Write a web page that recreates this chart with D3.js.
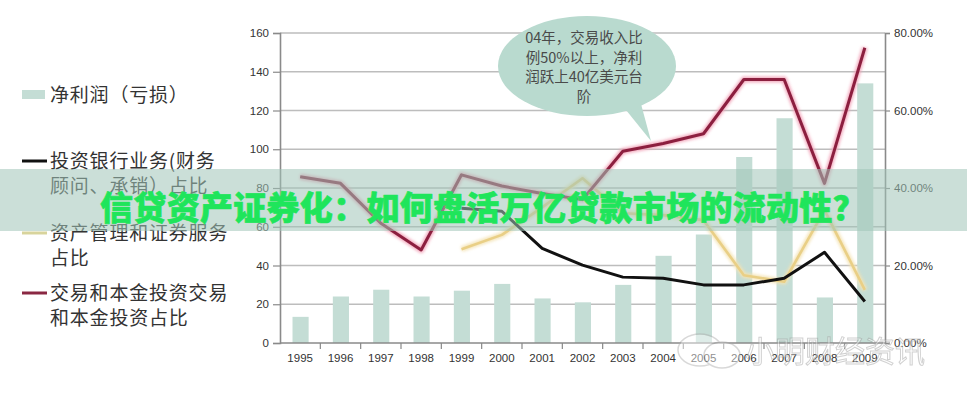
<!DOCTYPE html>
<html><head><meta charset="utf-8">
<script src="https://cdn.jsdelivr.net/npm/d3@7"></script>
<style>
html,body{margin:0;padding:0;background:#fff;}
svg{display:block;font-family:"Noto Sans CJK SC","Liberation Sans",Arial,sans-serif;}
</style></head>
<body>
<svg id="c" width="967" height="400"></svg>
<script>
const years = ["1995","1996","1997","1998","1999","2000","2001","2002","2003","2004","2005","2006","2007","2008","2009"];
const netProfit = [13.5, 24, 27.5, 24, 27, 30.5, 23, 21, 30, 45, 56, 96, 116, 23.5, 134];
const ibShare = [null, null, null, null, 34.8, 34, 24.4, 20.1, 17, 16.7, 15, 15, 16.7, 23.4, 10.7];
const amShare = [null, null, null, null, 24.2, 27.9, 35, 42.5, 33.5, 33, 31.7, 17.5, 15.8, 34.3, 13.7];
const tradeShare = [42.9, 41.2, 30.9, 24, 43.4, 40.5, 38.6, 37, 49.5, 51.5, 54, 68, 68, 41.2, 76.2];
const leftTicks = [0, 20, 40, 60, 80, 100, 120, 140, 160];
const rightTicks = [0, 20, 40, 60, 80];
const legendItems = [
  {type:"rect", lines:["净利润（亏损）"]},
  {type:"line", color:"#111", lines:["投资银行业务(财务","顾问、承销）占比"]},
  {type:"line", color:"#d8d49c", lines:["资产管理和证券服务","占比"]},
  {type:"line", color:"#8a2843", lines:["交易和本金投资交易","和本金投资占比"]}
];
const bubbleLines = ["04年，交易收入比","例50%以上，净利","润跃上40亿美元台","阶"];
const title = "信贷资产证券化：如何盘活万亿贷款市场的流动性？";

const svg = d3.select("#c");
const L = 280, R = 885, T = 33, B = 343;
const x = d3.scaleBand().domain(years).range([L, R]).padding(0);
const yL = d3.scaleLinear().domain([0,160]).range([B, T]);
const yR = d3.scaleLinear().domain([0,80]).range([B, T]);

const defs = svg.append("defs");
const glow = defs.append("filter").attr("id","glow").attr("x","-10%").attr("y","-10%").attr("width","120%").attr("height","120%");
glow.append("feGaussianBlur").attr("stdDeviation",1.6);

// gridlines
svg.append("g").selectAll("line").data(leftTicks.filter(d=>d>0)).join("line")
  .attr("x1",L).attr("x2",R).attr("y1",d=>yL(d)).attr("y2",d=>yL(d))
  .attr("stroke","#bdbdbd").attr("stroke-width",1.3);

// bars
svg.append("g").selectAll("rect").data(netProfit).join("rect")
  .attr("x",(d,i)=>x(years[i])+x.bandwidth()*0.31)
  .attr("width",x.bandwidth()*0.4)
  .attr("y",d=>yL(d)).attr("height",d=>B-yL(d))
  .attr("fill","#c4ddd5");

// axes
const axL = svg.append("g").attr("transform",`translate(${L},0)`)
  .call(d3.axisLeft(yL).tickValues(leftTicks).tickSize(7).tickPadding(4).tickFormat(d3.format("d")));
const axR = svg.append("g").attr("transform",`translate(${R},0)`)
  .call(d3.axisRight(yR).tickValues(rightTicks).tickSize(5).tickPadding(4).tickFormat(d=>d.toFixed(2)+"%"));
const axB = svg.append("g").attr("transform",`translate(0,${B})`)
  .call(d3.axisBottom(x).tickSize(0).tickPadding(11));
svg.append("g").selectAll("line").data(years.slice(1)).join("line")
  .attr("x1",d=>x(d)).attr("x2",d=>x(d)).attr("y1",B).attr("y2",B+6)
  .attr("stroke","#888").attr("stroke-width",1.2);
[axL,axR,axB].forEach(a=>{
  a.selectAll(".domain").attr("stroke","#8a8a8a").attr("stroke-width",1.6);
  a.selectAll(".tick line").attr("stroke","#8a8a8a").attr("stroke-width",1.2);
  a.selectAll("text").attr("fill","#333").style("font-family","'Liberation Sans',Arial,sans-serif").style("font-size","11.5px");
});
axB.select(".domain").attr("d",`M${L},0H${R}`);

// lines
const lineGen = d3.line().defined(d=>d!=null).x((d,i)=>x(years[i])+x.bandwidth()/2).y(d=>yR(d));
function drawLine(data, color, haloColor, width){
  if(haloColor){
    svg.append("path").datum(data).attr("d",lineGen).attr("fill","none")
      .attr("stroke",haloColor).attr("stroke-width",width+3).attr("stroke-linejoin","round").attr("filter","url(#glow)").attr("opacity",0.9);
  }
  svg.append("path").datum(data).attr("d",lineGen).attr("fill","none")
    .attr("stroke",color).attr("stroke-width",width).attr("stroke-linejoin","round");
}
drawLine(amShare, "#e9cf86", "#f4e3b4", 2.6);
drawLine(ibShare, "#111", null, 3);
drawLine(tradeShare, "#8c1f3f", "#f2a3b8", 3);

// legend
const lg = svg.append("g");
const ly = [95, 161, 233, 293];
legendItems.forEach((it,k)=>{
  const y0 = ly[k];
  if(it.type==="rect"){
    lg.append("rect").attr("x",22).attr("y",y0-5).attr("width",23).attr("height",9).attr("fill","#c4ddd5");
  } else {
    lg.append("line").attr("x1",22).attr("x2",47).attr("y1",y0).attr("y2",y0)
      .attr("stroke",it.color).attr("stroke-width",3);
  }
  it.lines.forEach((t,j)=>{
    lg.append("text").attr("x",50).attr("y",y0+7+j*24.5).text(t)
      .attr("fill","#333").style("font-size","19px").style("letter-spacing","0.8px");
  });
});

// speech bubble
const bub = svg.append("g");
bub.append("path")
  .attr("d","M626,110 L651,141 L641,104 Z").attr("fill","#b9dacf");
bub.append("ellipse").attr("cx",587).attr("cy",66).attr("rx",89).attr("ry",50).attr("fill","#b9dacf");
bubbleLines.forEach((t,j)=>{
  bub.append("text").attr("x",584).attr("y",43+j*19.5).attr("text-anchor","middle")
    .text(t).attr("fill","#4a4a4a").style("font-size","14.5px");
});

// banner
svg.append("rect").attr("x",0).attr("y",169).attr("width",967).attr("height",62)
  .attr("fill","rgb(160,196,184)").attr("opacity",0.55);
svg.append("text").attr("x",483).attr("y",220).attr("text-anchor","middle")
  .text(title).attr("fill","#1fe55b").attr("stroke","#1fe55b").attr("stroke-width",0.7)
  .attr("stroke-linejoin","round")
  .style("font-size","33px").style("font-weight","900").style("letter-spacing","0.3px");

// watermark
const wm = svg.append("g").attr("opacity",0.45);
wm.append("ellipse").attr("cx",700).attr("cy",350).attr("rx",22).attr("ry",16).attr("fill","#fff").attr("stroke","#aaa").attr("stroke-width",1.5);
wm.append("ellipse").attr("cx",722).attr("cy",355).attr("rx",18).attr("ry",13).attr("fill","#fff").attr("stroke","#aaa").attr("stroke-width",1.5);
wm.append("text").attr("x",745).attr("y",362).text("小明财经资讯")
  .attr("fill","#fff").attr("stroke","#999").attr("stroke-width",1).style("font-size","30px");
</script>
</body></html>
